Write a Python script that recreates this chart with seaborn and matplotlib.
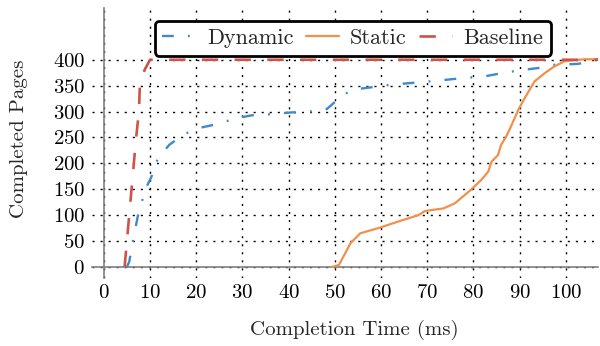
import matplotlib
matplotlib.use("Agg")
import matplotlib.pyplot as plt
import seaborn as sns
import pandas as pd

# completion time (ms) vs completed pages
dyn_x = [5.0, 5.5, 6.3, 7.4, 9.0, 10.3, 11.7, 14.2, 17.5, 21.0, 24.6, 28.6, 32.2, 36.5,
         40.1, 44.4, 48.0, 48.8, 51.2, 53.7, 62.3, 70.3, 78.2, 82.5, 86.0, 90.3, 94.0,
         96.8, 102.6, 107.0]
dyn_y = [0, 10, 50, 100, 150, 174, 210, 236, 257, 269, 276, 287, 293, 295,
         298, 300, 303, 309, 328, 342, 352, 358, 365, 368, 374, 380, 384,
         390, 392, 400]

sta_x = [49.4, 50.9, 53.4, 55.5, 59.8, 63.8, 68.1, 69.5, 73.5, 76.0, 79.2, 81.7, 83.2,
         83.9, 85.3, 86.0, 87.1, 87.8, 89.7, 91.1, 93.2, 95.4, 97.5, 99.7, 104.0, 107.0]
sta_y = [0, 4, 46, 65, 76, 88, 100, 108, 113, 123, 147, 168, 184,
         203, 216, 236, 252, 265, 303, 326, 358, 374, 387, 397, 401, 401]

base_x = [4.5, 6.0, 7.0, 7.6, 7.8, 8.8, 10.0, 107.0]
base_y = [0, 150, 250, 300, 350, 380, 400, 400]

x_ticks = list(range(0, 101, 10))
y_ticks = list(range(0, 401, 50))

sns.set_theme(style="white")
plt.rcParams["font.family"] = "cmr10"
plt.rcParams["axes.formatter.use_mathtext"] = True
fs = 15

fig = plt.figure(figsize=(6, 3.46), dpi=100)
ax = fig.add_axes([0.153, 0.197, 0.844, 0.78])

dyn = pd.DataFrame({"t": dyn_x, "n": dyn_y})
sta = pd.DataFrame({"t": sta_x, "n": sta_y})
base = pd.DataFrame({"t": base_x, "n": base_y})

sns.lineplot(data=dyn, x="t", y="n", ax=ax, color="#3f8ac9", lw=1.7,
             linestyle=(0, (5, 6, 0.8, 6)), label="Dynamic", sort=False, zorder=3)
sns.lineplot(data=sta, x="t", y="n", ax=ax, color="#f0904a", lw=1.6,
             label="Static", sort=False, zorder=3)
sns.lineplot(data=base, x="t", y="n", ax=ax, color="#cf5348", lw=1.9,
             linestyle=(0, (6.2, 6.2)), label="Baseline", sort=False, zorder=3)

ax.set_xlim(-2.6, 107)
ax.set_ylim(-21, 500)
ax.set_xticks(x_ticks)
ax.set_yticks(y_ticks)

for s in ["top", "right"]:
    ax.spines[s].set_visible(False)
ax.spines["left"].set_position(("data", 0))
ax.spines["bottom"].set_position(("data", 0))
for s in ["left", "bottom"]:
    ax.spines[s].set_color("#808080")
    ax.spines[s].set_linewidth(1.2)
    ax.spines[s].set_zorder(1)
ax.spines["left"].set_bounds(-21, 500)
ax.spines["bottom"].set_bounds(-2.6, 107)

ax.tick_params(axis="both", direction="inout", length=11, width=1.2, color="#808080",
               labelsize=fs, colors="black")
ax.tick_params(axis="x", pad=7)
ax.tick_params(axis="y", pad=8)

ax.grid(True, color="black", linestyle=(0, (1.5, 4.3)), lw=1.0, zorder=0)
ax.set_axisbelow(True)

ax.set_xlabel("")
ax.set_ylabel("")
fig.text(0.59, 0.045, "Completion Time (ms)", ha="center", va="center", fontsize=fs)
fig.text(0.032, 0.6, "Completed Pages", ha="center", va="center", rotation=90, fontsize=fs)

leg = ax.legend(loc="center", bbox_to_anchor=(0.588, 0.89), bbox_transform=fig.transFigure,
                ncol=3, frameon=True, fontsize=16, handlelength=1.5, columnspacing=0.55,
                handletextpad=0.5, borderpad=0.35, borderaxespad=0, fancybox=True,
                framealpha=1)
leg.get_frame().set_edgecolor("black")
leg.get_frame().set_linewidth(2.0)

fig.savefig("out.png", dpi=100)
